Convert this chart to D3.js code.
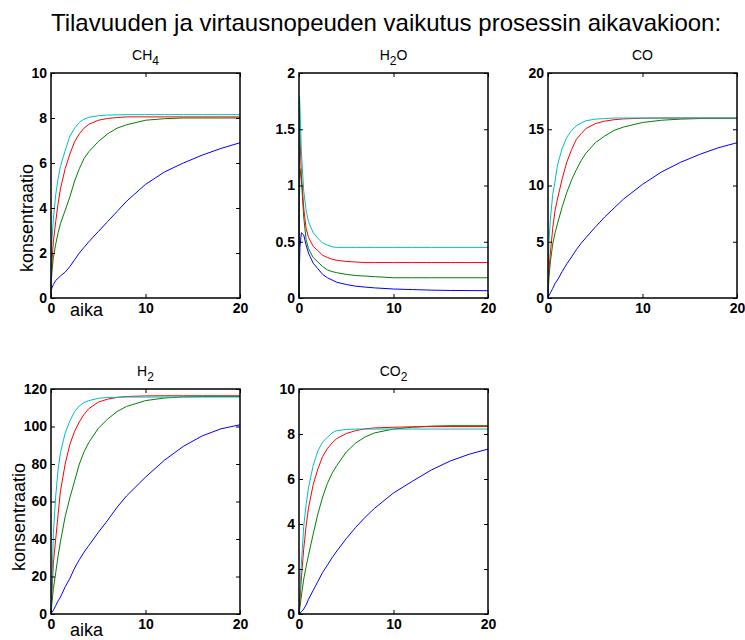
<!DOCTYPE html>
<html>
<head>
<meta charset="utf-8">
<script src="https://cdn.jsdelivr.net/npm/d3@7"></script>
<style>
  body { margin: 0; background: #fff; }
  svg { display: block; }
  text { font-family: "Liberation Sans", Arial, Helvetica, sans-serif; fill: #000; }
</style>
</head>
<body>
<svg id="chart" width="745" height="640"></svg>
<script>
// Sample times (aika) shared by every simulated run
const time = [0, 0.05, 0.1, 0.25, 0.5, 0.75, 1, 1.5, 2, 2.5, 3, 3.5, 4, 5, 6, 7, 8, 10, 12, 14, 16, 18, 20];
const xTicks = [0, 10, 20];

// Concentration responses, one row per run (volume / flow-rate combination)
const ch4Values = [
  [0.2, 0.35, 0.45, 0.6, 0.78, 0.88, 0.98, 1.15, 1.4, 1.7, 2.0, 2.25, 2.5, 2.95, 3.4, 3.85, 4.3, 5.05, 5.6, 6.0, 6.35, 6.65, 6.9],
  [0, 0.8, 1.2, 1.8, 2.4, 2.9, 3.3, 3.9, 4.5, 5.2, 5.75, 6.2, 6.5, 6.95, 7.3, 7.55, 7.7, 7.9, 7.97, 8.0, 8.0, 8.0, 8.0],
  [0, 1.0, 1.6, 2.5, 3.4, 4.2, 4.85, 5.75, 6.4, 6.95, 7.3, 7.55, 7.72, 7.9, 7.98, 8.02, 8.05, 8.05, 8.05, 8.05, 8.05, 8.05, 8.05],
  [0, 1.8, 2.6, 3.5, 4.6, 5.3, 5.85, 6.55, 7.2, 7.55, 7.8, 7.95, 8.03, 8.1, 8.13, 8.14, 8.15, 8.15, 8.15, 8.15, 8.15, 8.15, 8.15]
];
const h2oValues = [
  [0, 0.28, 0.45, 0.58, 0.56, 0.47, 0.4, 0.31, 0.26, 0.21, 0.18, 0.16, 0.14, 0.12, 0.105, 0.097, 0.09, 0.08, 0.075, 0.07, 0.067, 0.066, 0.065],
  [0, 0.9, 1.15, 1.05, 0.72, 0.52, 0.44, 0.36, 0.32, 0.28, 0.25, 0.235, 0.225, 0.21, 0.2, 0.195, 0.19, 0.18, 0.18, 0.18, 0.18, 0.18, 0.18],
  [0, 1.52, 1.45, 1.1, 0.8, 0.62, 0.54, 0.46, 0.42, 0.38, 0.36, 0.345, 0.335, 0.325, 0.32, 0.315, 0.315, 0.315, 0.315, 0.315, 0.315, 0.315, 0.315],
  [0, 1.79, 1.7, 1.3, 0.95, 0.78, 0.68, 0.58, 0.53, 0.49, 0.47, 0.455, 0.45, 0.45, 0.45, 0.45, 0.45, 0.45, 0.45, 0.45, 0.45, 0.45, 0.45]
];
const coValues = [
  [0, 0.1, 0.2, 0.45, 0.85, 1.3, 1.6, 2.35, 3.05, 3.65, 4.3, 4.85, 5.35, 6.3, 7.2, 8.0, 8.8, 10.1, 11.2, 12.05, 12.75, 13.35, 13.8],
  [0, 1.0, 1.8, 3.2, 4.8, 5.8, 6.6, 8.1, 9.4, 10.5, 11.4, 12.2, 12.85, 13.8, 14.4, 14.9, 15.2, 15.6, 15.8, 15.9, 15.95, 15.95, 15.95],
  [0, 1.5, 2.5, 4.0, 6.2, 7.8, 8.8, 10.6, 12.1, 13.2, 14.1, 14.6, 15.05, 15.5, 15.72, 15.85, 15.92, 15.98, 16.0, 16.0, 16.0, 16.0, 16.0],
  [0, 3.0, 5.0, 7.0, 9.2, 10.4, 11.8, 13.3, 14.3, 14.9, 15.3, 15.55, 15.75, 15.9, 15.95, 16.0, 16.0, 16.0, 16.0, 16.0, 16.0, 16.0, 16.0]
];
const h2Values = [
  [0, 0.5, 1, 2, 4.5, 7, 9, 14.5, 19, 24.5, 29, 33, 36.5, 43.5, 50, 57, 63, 73, 82, 89.4, 95, 98.8, 100.9],
  [0, 3, 6, 13.5, 22, 31, 38.5, 52, 62, 71, 80, 86.5, 91.5, 99, 104, 108, 110.7, 113.8, 115.2, 115.8, 116, 116, 116],
  [0, 6, 12, 27, 40, 53, 65.5, 80, 90.5, 97.5, 102.5, 106.5, 109.5, 113, 114.6, 115.5, 116, 116.3, 116.4, 116.4, 116.4, 116.4, 116.4],
  [0, 8, 15, 43, 63, 77, 86, 96.5, 103, 108, 111, 112.8, 113.8, 115, 115.5, 115.6, 115.7, 115.7, 115.7, 115.7, 115.7, 115.7, 115.7]
];
const co2Values = [
  [0, 0.02, 0.05, 0.1, 0.22, 0.4, 0.65, 1.05, 1.45, 1.85, 2.17, 2.5, 2.8, 3.35, 3.85, 4.3, 4.7, 5.38, 5.9, 6.4, 6.8, 7.1, 7.33],
  [0, 0.15, 0.3, 0.8, 1.55, 2.1, 2.6, 3.55, 4.45, 5.2, 5.8, 6.25, 6.6, 7.2, 7.6, 7.87, 8.05, 8.22, 8.3, 8.35, 8.37, 8.37, 8.37],
  [0, 0.3, 0.6, 1.6, 2.9, 3.9, 4.7, 5.75, 6.45, 7.0, 7.35, 7.6, 7.8, 8.02, 8.15, 8.23, 8.27, 8.3, 8.32, 8.33, 8.33, 8.33, 8.33],
  [0, 0.5, 1.0, 2.2, 3.9, 4.85, 5.6, 6.6, 7.25, 7.65, 7.85, 8.05, 8.15, 8.2, 8.22, 8.22, 8.22, 8.22, 8.22, 8.22, 8.22, 8.22, 8.22]
];

// Y tick values per component
const ch4Ticks = [0, 2, 4, 6, 8, 10];
const h2oTicks = [0, 0.5, 1, 1.5, 2];
const coTicks = [0, 5, 10, 15, 20];
const h2Ticks = [0, 20, 40, 60, 80, 100, 120];
const co2Ticks = [0, 2, 4, 6, 8, 10];

const runColors = ["#0000ff", "#008000", "#ff0000", "#00bfbf"];

const svg = d3.select("#chart");
const W = 189, H = 225;

// Subplot layout: [base, subscript, tail] title parts
const panels = [
  { name: ["CH", "4", ""], values: ch4Values, ticks: ch4Ticks, left: 51,  top: 73,  labels: { yx: 33, yy: 218, xx: 70, xy: 316 } },
  { name: ["H", "2", "O"], values: h2oValues, ticks: h2oTicks, left: 299, top: 73 },
  { name: ["CO", "", ""],  values: coValues,  ticks: coTicks,  left: 548, top: 73 },
  { name: ["H", "2", ""],  values: h2Values,  ticks: h2Ticks,  left: 51,  top: 389, labels: { yx: 25, yy: 517, xx: 70, xy: 636 } },
  { name: ["CO", "2", ""], values: co2Values, ticks: co2Ticks, left: 299, top: 389 }
];

svg.append("text")
  .attr("x", 386).attr("y", 31)
  .attr("text-anchor", "middle")
  .attr("font-size", 24)
  .text("Tilavuuden ja virtausnopeuden vaikutus prosessin aikavakioon:");

panels.forEach(p => {
  const g = svg.append("g").attr("transform", `translate(${p.left},${p.top})`);
  const x = d3.scaleLinear().domain([0, 20]).range([0, W]);
  const y = d3.scaleLinear().domain([p.ticks[0], p.ticks[p.ticks.length - 1]]).range([H, 0]);

  const line = d3.line().x((d, i) => x(time[i])).y(d => y(d));
  p.values.forEach((vals, k) => {
    g.append("path")
      .attr("d", line(vals))
      .attr("fill", "none")
      .attr("stroke", runColors[k])
      .attr("stroke-width", 1);
  });

  const styleAxis = sel => {
    sel.select(".domain").remove();
    sel.selectAll(".tick line").attr("stroke", "#000").attr("stroke-width", 1);
    sel.selectAll(".tick text")
      .attr("font-family", "'Liberation Sans', Arial, Helvetica, sans-serif")
      .attr("font-size", 14).attr("font-weight", "bold").attr("fill", "#000");
  };

  g.append("g").call(d3.axisLeft(y).tickValues(p.ticks).tickFormat(d => String(d)).tickSize(-4).tickPadding(4)).call(styleAxis);
  g.append("g").attr("transform", `translate(${W},0)`).call(d3.axisRight(y).tickValues(p.ticks).tickFormat("").tickSize(-4)).call(styleAxis);
  g.append("g").attr("transform", `translate(0,${H})`).call(d3.axisBottom(x).tickValues(xTicks).tickFormat(d => String(d)).tickSize(-4).tickPadding(5)).call(styleAxis);
  g.append("g").call(d3.axisTop(x).tickValues(xTicks).tickFormat("").tickSize(-4)).call(styleAxis);

  g.append("rect")
    .attr("x", 0).attr("y", 0).attr("width", W).attr("height", H)
    .attr("fill", "none").attr("stroke", "#000").attr("stroke-width", 1.5);

  const t = g.append("text")
    .attr("x", W / 2).attr("y", -13)
    .attr("text-anchor", "middle")
    .attr("font-size", 14);
  t.append("tspan").text(p.name[0]);
  if (p.name[1]) t.append("tspan").attr("dy", 5).attr("font-size", 12).text(p.name[1]);
  if (p.name[2]) t.append("tspan").attr("dy", -5).text(p.name[2]);

  if (p.labels) {
    svg.append("text")
      .attr("transform", `translate(${p.labels.yx},${p.labels.yy}) rotate(-90)`)
      .attr("text-anchor", "middle")
      .attr("font-size", 18)
      .text("konsentraatio");
    svg.append("text")
      .attr("x", p.labels.xx).attr("y", p.labels.xy)
      .attr("font-size", 18)
      .text("aika");
  }
});
</script>
</body>
</html>
